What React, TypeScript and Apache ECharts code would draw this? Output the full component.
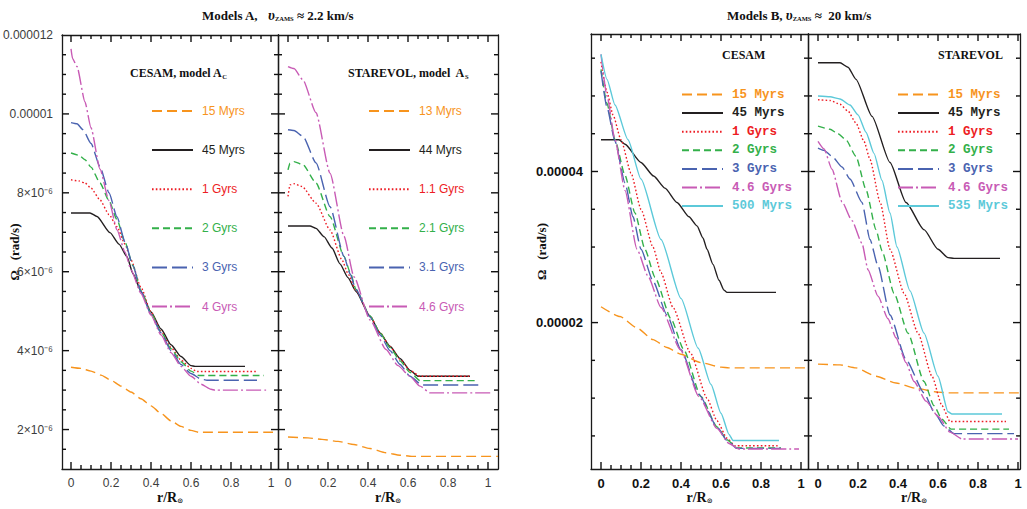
import React, { useEffect, useRef } from "react";
import * as echarts from "echarts";

type Pt = [number, number];

// ---------------- Models A, CESAM (model A_C): [r/Rsun, Omega rad/s]
const A_CESAM_15Myrs: Pt[] = [[0,3.58e-6],[0.05,3.55e-6],[0.1,3.48e-6],[0.15,3.38e-6],[0.2,3.25e-6],[0.25,3.1e-6],[0.3,2.95e-6],[0.35,2.78e-6],[0.4,2.6e-6],[0.45,2.41e-6],[0.5,2.22e-6],[0.55,2.08e-6],[0.6,1.98e-6],[0.64,1.93e-6],[0.7,1.93e-6],[1.035,1.93e-6]];
const A_CESAM_45Myrs: Pt[] = [[0,7.49e-6],[0.095,7.49e-6],[0.13,7.4e-6],[0.195,6.99e-6],[0.24,6.7e-6],[0.28,6.38e-6],[0.31,5.95e-6],[0.35,5.5e-6],[0.4,4.98e-6],[0.45,4.55e-6],[0.5,4.15e-6],[0.55,3.85e-6],[0.6,3.62e-6],[0.62,3.6e-6],[0.87,3.6e-6]];
const A_CESAM_1Gyrs: Pt[] = [[0,8.33e-6],[0.04,8.3e-6],[0.07,8.25e-6],[0.1,8.12e-6],[0.145,7.82e-6],[0.19,7.45e-6],[0.23,7.14e-6],[0.27,6.7e-6],[0.3,6.3e-6],[0.35,5.6e-6],[0.4,4.98e-6],[0.45,4.5e-6],[0.5,4.08e-6],[0.55,3.76e-6],[0.6,3.55e-6],[0.63,3.47e-6],[0.935,3.47e-6]];
const A_CESAM_2Gyrs: Pt[] = [[0,9.01e-6],[0.04,8.95e-6],[0.07,8.84e-6],[0.1,8.65e-6],[0.145,8.25e-6],[0.19,7.8e-6],[0.23,7.32e-6],[0.27,6.75e-6],[0.31,6.15e-6],[0.35,5.52e-6],[0.4,4.95e-6],[0.45,4.48e-6],[0.5,4.05e-6],[0.55,3.72e-6],[0.6,3.48e-6],[0.64,3.37e-6],[0.965,3.37e-6]];
const A_CESAM_3Gyrs: Pt[] = [[0,9.78e-6],[0.03,9.75e-6],[0.06,9.6e-6],[0.1,9.25e-6],[0.145,8.66e-6],[0.19,8.0e-6],[0.23,7.39e-6],[0.27,6.75e-6],[0.31,6.15e-6],[0.35,5.5e-6],[0.4,4.92e-6],[0.45,4.45e-6],[0.5,4.0e-6],[0.55,3.65e-6],[0.6,3.42e-6],[0.65,3.28e-6],[0.68,3.25e-6],[0.93,3.25e-6]];
const A_CESAM_4Gyrs: Pt[] = [[0,11.65e-6],[0.008,11.4e-6],[0.03,11.2e-6],[0.07,10.3e-6],[0.1,9.65e-6],[0.145,8.6e-6],[0.19,7.8e-6],[0.23,7.06e-6],[0.27,6.5e-6],[0.3,6.05e-6],[0.35,5.45e-6],[0.4,4.9e-6],[0.45,4.4e-6],[0.5,3.95e-6],[0.55,3.6e-6],[0.6,3.35e-6],[0.65,3.15e-6],[0.7,3.02e-6],[0.72,3.0e-6],[0.985,3.0e-6]];

// ---------------- Models A, STAREVOL (model A_S)
const A_STAREVOL_13Myrs: Pt[] = [[0,1.81e-6],[0.1,1.79e-6],[0.17,1.75e-6],[0.25,1.7e-6],[0.33,1.62e-6],[0.41,1.52e-6],[0.49,1.41e-6],[0.56,1.35e-6],[0.62,1.32e-6],[1.05,1.32e-6]];
const A_STAREVOL_44Myrs: Pt[] = [[0,7.16e-6],[0.11,7.16e-6],[0.14,7.1e-6],[0.18,6.89e-6],[0.22,6.6e-6],[0.26,6.2e-6],[0.3,5.85e-6],[0.34,5.5e-6],[0.41,4.87e-6],[0.46,4.45e-6],[0.51,4.11e-6],[0.56,3.8e-6],[0.61,3.5e-6],[0.65,3.35e-6],[0.91,3.35e-6]];
const A_STAREVOL_1_1Gyrs: Pt[] = [[0,7.91e-6],[0.01,8.2e-6],[0.03,8.23e-6],[0.07,8.16e-6],[0.14,7.74e-6],[0.21,7.06e-6],[0.27,6.3e-6],[0.3,5.95e-6],[0.34,5.52e-6],[0.41,4.88e-6],[0.46,4.46e-6],[0.51,4.1e-6],[0.56,3.78e-6],[0.61,3.5e-6],[0.66,3.35e-6],[0.91,3.35e-6]];
const A_STAREVOL_2_1Gyrs: Pt[] = [[0,8.58e-6],[0.01,8.75e-6],[0.03,8.79e-6],[0.075,8.71e-6],[0.14,8.25e-6],[0.21,7.4e-6],[0.28,6.39e-6],[0.31,6.0e-6],[0.34,5.55e-6],[0.41,4.88e-6],[0.46,4.45e-6],[0.51,4.08e-6],[0.56,3.74e-6],[0.61,3.45e-6],[0.66,3.24e-6],[0.935,3.24e-6]];
const A_STAREVOL_3_1Gyrs: Pt[] = [[0,9.6e-6],[0.03,9.58e-6],[0.075,9.43e-6],[0.14,8.76e-6],[0.21,7.65e-6],[0.28,6.39e-6],[0.31,5.95e-6],[0.34,5.55e-6],[0.41,4.85e-6],[0.46,4.4e-6],[0.51,4.0e-6],[0.56,3.65e-6],[0.61,3.35e-6],[0.67,3.13e-6],[0.97,3.13e-6]];
const A_STAREVOL_4_6Gyrs: Pt[] = [[0,11.2e-6],[0.03,11.15e-6],[0.075,10.86e-6],[0.14,10.03e-6],[0.21,8.5e-6],[0.28,6.9e-6],[0.33,5.87e-6],[0.41,4.78e-6],[0.49,4.03e-6],[0.55,3.62e-6],[0.61,3.35e-6],[0.66,3.1e-6],[0.71,2.93e-6],[1.02,2.93e-6]];

// ---------------- Models B, CESAM
const B_CESAM_15Myrs: Pt[] = [[0,2.21e-5],[0.095,2.08e-5],[0.18,1.93e-5],[0.26,1.775e-5],[0.33,1.67e-5],[0.4,1.58e-5],[0.5,1.47e-5],[0.6,1.41e-5],[0.64,1.4e-5],[1.03,1.4e-5]];
const B_CESAM_45Myrs: Pt[] = [[0,4.42e-5],[0.09,4.42e-5],[0.12,4.36e-5],[0.2,4.12e-5],[0.263,3.94e-5],[0.32,3.78e-5],[0.38,3.59e-5],[0.44,3.4e-5],[0.48,3.28e-5],[0.51,3.12e-5],[0.53,2.97e-5],[0.56,2.77e-5],[0.59,2.56e-5],[0.615,2.43e-5],[0.63,2.4e-5],[0.875,2.4e-5]];
const B_CESAM_1Gyrs: Pt[] = [[0,5.45e-5],[0.03,5.05e-5],[0.06,4.75e-5],[0.1,4.42e-5],[0.15,3.98e-5],[0.2,3.5e-5],[0.26,3.0e-5],[0.3,2.66e-5],[0.36,2.2e-5],[0.447,1.6e-5],[0.53,1.0e-5],[0.58,0.7e-5],[0.63,0.47e-5],[0.67,0.37e-5],[0.89,0.37e-5]];
const B_CESAM_2Gyrs: Pt[] = [[0,5.35e-5],[0.03,4.9e-5],[0.07,4.42e-5],[0.12,3.95e-5],[0.17,3.45e-5],[0.22,2.97e-5],[0.27,2.6e-5],[0.35,2.05e-5],[0.414,1.64e-5],[0.5,1.02e-5],[0.58,0.62e-5],[0.63,0.45e-5],[0.68,0.34e-5],[0.9,0.34e-5]];
const B_CESAM_3Gyrs: Pt[] = [[0,5.33e-5],[0.03,4.85e-5],[0.07,4.4e-5],[0.12,3.85e-5],[0.16,3.4e-5],[0.2,2.97e-5],[0.26,2.55e-5],[0.33,2.1e-5],[0.4,1.64e-5],[0.49,1.05e-5],[0.58,0.62e-5],[0.63,0.44e-5],[0.68,0.335e-5],[0.9,0.335e-5]];
const B_CESAM_4_6Gyrs: Pt[] = [[0,5.55e-5],[0.03,5.0e-5],[0.07,4.42e-5],[0.12,3.75e-5],[0.18,2.97e-5],[0.236,2.61e-5],[0.3,2.2e-5],[0.397,1.64e-5],[0.49,1.02e-5],[0.58,0.6e-5],[0.64,0.4e-5],[0.69,0.327e-5],[0.99,0.327e-5]];
const B_CESAM_500Myrs: Pt[] = [[0,5.55e-5],[0.03,5.22e-5],[0.07,4.88e-5],[0.135,4.42e-5],[0.2,3.9e-5],[0.3,3.1e-5],[0.4,2.32e-5],[0.486,1.66e-5],[0.55,1.18e-5],[0.6,0.8e-5],[0.64,0.52e-5],[0.66,0.44e-5],[0.89,0.44e-5]];

// ---------------- Models B, STAREVOL
const B_STAREVOL_15Myrs: Pt[] = [[0,1.45e-5],[0.11,1.44e-5],[0.19,1.4e-5],[0.29,1.29e-5],[0.39,1.2e-5],[0.49,1.13e-5],[0.6,1.08e-5],[0.65,1.07e-5],[1.01,1.07e-5]];
const B_STAREVOL_45Myrs: Pt[] = [[0,5.44e-5],[0.11,5.44e-5],[0.15,5.38e-5],[0.19,5.22e-5],[0.27,4.73e-5],[0.36,4.12e-5],[0.44,3.59e-5],[0.53,3.23e-5],[0.6,2.97e-5],[0.65,2.86e-5],[0.68,2.85e-5],[0.91,2.85e-5]];
const B_STAREVOL_1Gyrs: Pt[] = [[0,4.95e-5],[0.06,4.94e-5],[0.11,4.89e-5],[0.15,4.8e-5],[0.19,4.64e-5],[0.23,4.4e-5],[0.26,4.16e-5],[0.31,3.6e-5],[0.36,2.97e-5],[0.43,2.39e-5],[0.5,1.86e-5],[0.57,1.29e-5],[0.62,0.9e-5],[0.66,0.69e-5],[0.94,0.69e-5]];
const B_STAREVOL_2Gyrs: Pt[] = [[0,4.6e-5],[0.06,4.56e-5],[0.1,4.5e-5],[0.14,4.42e-5],[0.19,4.2e-5],[0.24,3.76e-5],[0.29,3.23e-5],[0.32,2.95e-5],[0.38,2.39e-5],[0.45,1.86e-5],[0.53,1.22e-5],[0.58,0.9e-5],[0.62,0.72e-5],[0.665,0.59e-5],[0.955,0.59e-5]];
const B_STAREVOL_3Gyrs: Pt[] = [[0,4.31e-5],[0.03,4.28e-5],[0.07,4.2e-5],[0.12,4.06e-5],[0.16,3.9e-5],[0.22,3.59e-5],[0.26,3.1e-5],[0.3,2.75e-5],[0.36,2.1e-5],[0.44,1.51e-5],[0.53,1.07e-5],[0.58,0.82e-5],[0.63,0.63e-5],[0.68,0.53e-5],[0.98,0.53e-5]];
const B_STAREVOL_4_6Gyrs: Pt[] = [[0,4.4e-5],[0.03,4.3e-5],[0.07,4.03e-5],[0.12,3.6e-5],[0.17,3.35e-5],[0.22,3.05e-5],[0.25,2.7e-5],[0.3,2.35e-5],[0.35,2.05e-5],[0.39,1.8e-5],[0.44,1.47e-5],[0.48,1.22e-5],[0.54,0.96e-5],[0.6,0.76e-5],[0.66,0.55e-5],[0.72,0.46e-5],[1.0,0.46e-5]];
const B_STAREVOL_535Myrs: Pt[] = [[0,5.0e-5],[0.06,4.99e-5],[0.11,4.96e-5],[0.16,4.88e-5],[0.2,4.75e-5],[0.24,4.52e-5],[0.28,4.24e-5],[0.32,3.88e-5],[0.36,3.45e-5],[0.395,3.0e-5],[0.46,2.42e-5],[0.53,1.86e-5],[0.6,1.29e-5],[0.65,0.82e-5],[0.67,0.79e-5],[0.92,0.79e-5]];

// ---------------- ticks and tick labels
const X_TICK_VALUES = [0, 0.2, 0.4, 0.6, 0.8, 1];
const X_TICK_LABELS = ["0", "0.2", "0.4", "0.6", "0.8", "1"];
const X_MINOR_TICKS = [0.05, 0.1, 0.15, 0.25, 0.3, 0.35, 0.45, 0.5, 0.55, 0.65, 0.7, 0.75, 0.85, 0.9, 0.95];
const A_Y_TICK_VALUES = [2e-6, 4e-6, 6e-6, 8e-6, 1e-5, 1.2e-5];
const A_Y_TICK_LABELS = ["2×10⁻⁶", "4×10⁻⁶", "6×10⁻⁶", "8×10⁻⁶", "0.00001", "0.000012"];
const A_Y_MINOR_TICKS = [1.5e-6, 2.5e-6, 3e-6, 3.5e-6, 4.5e-6, 5e-6, 5.5e-6, 6.5e-6, 7e-6, 7.5e-6, 8.5e-6, 9e-6, 9.5e-6, 1.05e-5, 1.1e-5, 1.15e-5];
const B_Y_TICK_VALUES = [2e-5, 4e-5];
const B_Y_TICK_LABELS = ["0.00002", "0.00004"];
const B_Y_MINOR_TICKS = [5e-6, 1e-5, 1.5e-5, 2.5e-5, 3e-5, 3.5e-5, 4.5e-5, 5e-5, 5.5e-5];

// ---------------- legends (per panel)
const A_CESAM_LEGEND = ["15 Myrs", "45 Myrs", "1 Gyrs", "2 Gyrs", "3 Gyrs", "4 Gyrs"];
const A_STAREVOL_LEGEND = ["13 Myrs", "44 Myrs", "1.1 Gyrs", "2.1 Gyrs", "3.1 Gyrs", "4.6 Gyrs"];
const B_CESAM_LEGEND = ["15 Myrs", "45 Myrs", "1 Gyrs", "2 Gyrs", "3 Gyrs", "4.6 Gyrs", "500 Myrs"];
const B_STAREVOL_LEGEND = ["15 Myrs", "45 Myrs", "1 Gyrs", "2 Gyrs", "3 Gyrs", "4.6 Gyrs", "535 Myrs"];

const STYLES: Record<string, { color: string; type: any }> = {
  young: { color: "#F7941D", type: [10, 5] },
  zams: { color: "#231F20", type: "solid" },
  g1: { color: "#ED1C24", type: [1.6, 2.2] },
  g2: { color: "#33B04A", type: [7, 4] },
  g3: { color: "#4A63B0", type: [15, 5] },
  g4: { color: "#C85BB5", type: [15, 3, 2, 3] },
  cyan: { color: "#5CC9D9", type: "solid" },
};

const KIND_OF: Record<string, string> = {
  "15 Myrs": "young", "13 Myrs": "young",
  "45 Myrs": "zams", "44 Myrs": "zams",
  "1 Gyrs": "g1", "1.1 Gyrs": "g1",
  "2 Gyrs": "g2", "2.1 Gyrs": "g2",
  "3 Gyrs": "g3", "3.1 Gyrs": "g3",
  "4 Gyrs": "g4", "4.6 Gyrs": "g4",
  "500 Myrs": "cyan", "535 Myrs": "cyan",
};

const PANEL_SERIES: [string, Pt[]][][] = [
  [["15 Myrs", A_CESAM_15Myrs], ["45 Myrs", A_CESAM_45Myrs], ["1 Gyrs", A_CESAM_1Gyrs], ["2 Gyrs", A_CESAM_2Gyrs], ["3 Gyrs", A_CESAM_3Gyrs], ["4 Gyrs", A_CESAM_4Gyrs]],
  [["13 Myrs", A_STAREVOL_13Myrs], ["44 Myrs", A_STAREVOL_44Myrs], ["1.1 Gyrs", A_STAREVOL_1_1Gyrs], ["2.1 Gyrs", A_STAREVOL_2_1Gyrs], ["3.1 Gyrs", A_STAREVOL_3_1Gyrs], ["4.6 Gyrs", A_STAREVOL_4_6Gyrs]],
  [["15 Myrs", B_CESAM_15Myrs], ["45 Myrs", B_CESAM_45Myrs], ["1 Gyrs", B_CESAM_1Gyrs], ["2 Gyrs", B_CESAM_2Gyrs], ["3 Gyrs", B_CESAM_3Gyrs], ["4.6 Gyrs", B_CESAM_4_6Gyrs], ["500 Myrs", B_CESAM_500Myrs]],
  [["15 Myrs", B_STAREVOL_15Myrs], ["45 Myrs", B_STAREVOL_45Myrs], ["1 Gyrs", B_STAREVOL_1Gyrs], ["2 Gyrs", B_STAREVOL_2Gyrs], ["3 Gyrs", B_STAREVOL_3Gyrs], ["4.6 Gyrs", B_STAREVOL_4_6Gyrs], ["535 Myrs", B_STAREVOL_535Myrs]],
];

const GRIDS = [
  { left: 62, top: 35, width: 216, height: 434 },
  { left: 278, top: 35, width: 220, height: 434 },
  { left: 591, top: 34, width: 217, height: 435 },
  { left: 808, top: 34, width: 212, height: 435 },
];
const X_RANGES = [[-0.045, 1.035], [-0.05, 1.05], [-0.05, 1.035], [-0.05, 1.01]];
const Y_RANGE_A = [1.0e-6, 1.2e-5];
const Y_RANGE_B = [6.2e-7, 5.82e-5];

const lookup = (v: number, vals: number[], labels: string[]) => {
  for (let i = 0; i < vals.length; i++) {
    if (Math.abs(v - vals[i]) < Math.abs(vals[1] - vals[0]) * 1e-4) return labels[i];
  }
  return "";
};

export default function App() {
  const ref = useRef<HTMLDivElement>(null);
  const tickRef = useRef<HTMLDivElement>(null);
  useEffect(() => {
    if (!ref.current || !tickRef.current) return;
    const chart = echarts.init(ref.current, undefined, { renderer: "svg" });
    const tickChart = echarts.init(tickRef.current, undefined, { renderer: "svg" });

    const frame = { color: "#1a1a1a", width: 1.3 };
    const serif = "'Liberation Serif', 'DejaVu Serif', serif";
    const MAJOR = 7;
    const MINOR = 4;

    const xAxis: any[] = [];
    const yAxis: any[] = [];
    const series: any[] = [];
    const tXAxis: any[] = [];
    const tYAxis: any[] = [];
    const tSeries: any[] = [];

    GRIDS.forEach((_, g) => {
      const isA = g < 2;
      const labelStyle = isA
        ? { fontFamily: "'Liberation Sans', Arial, sans-serif", fontSize: 12, color: "#3c3c3c" }
        : { fontFamily: "'Liberation Sans', Arial, sans-serif", fontSize: 13, fontWeight: "bold", color: "#111" };
      const [xmin, xmax] = X_RANGES[g];
      const [ymin, ymax] = isA ? Y_RANGE_A : Y_RANGE_B;
      const baseX = {
        type: "value", gridIndex: g, min: xmin, max: xmax, splitNumber: 5,
        axisLine: { show: true, onZero: false, lineStyle: frame },
        axisTick: { show: false }, splitLine: { show: false },
      };
      xAxis.push({
        ...baseX, position: "bottom",
        axisLabel: { ...labelStyle, margin: 8, formatter: (v: number) => lookup(v, X_TICK_VALUES, X_TICK_LABELS) },
        name: "{a|r/R}{s|⊙}", nameLocation: "middle", nameGap: 21, nameMoveOverlap: false,
        nameTextStyle: {
          rich: {
            a: { fontFamily: serif, fontSize: 14, fontWeight: "bold", color: "#111", lineHeight: 14, verticalAlign: "middle" },
            s: { fontFamily: "'DejaVu Sans', sans-serif", fontSize: 7, fontWeight: "bold", color: "#111", verticalAlign: "bottom", lineHeight: 9, padding: [3, 0, 0, 0] },
          },
        },
      });
      xAxis.push({ ...baseX, position: "top", axisLabel: { show: false } });

      const baseY = {
        type: "value", gridIndex: g, min: ymin, max: ymax, splitNumber: isA ? 6 : 3,
        axisLine: { show: true, onZero: false, lineStyle: frame },
        axisTick: { show: false }, splitLine: { show: false },
      };
      const showLeftLabels = g === 0 || g === 2;
      yAxis.push({
        ...baseY, position: "left",
        axisLabel: showLeftLabels
          ? {
              ...labelStyle, margin: isA ? 9 : 8,
              formatter: (v: number) => (isA ? lookup(v, A_Y_TICK_VALUES, A_Y_TICK_LABELS) : lookup(v, B_Y_TICK_VALUES, B_Y_TICK_LABELS)),
            }
          : { show: false },
        name: showLeftLabels ? "Ω   (rad/s)" : "",
        nameLocation: "middle", nameGap: isA ? 41 : 43, nameMoveOverlap: false,
        nameTextStyle: { fontFamily: serif, fontSize: 13, fontWeight: "bold", color: "#111" },
      });
      yAxis.push({ ...baseY, position: "right", axisLabel: { show: false } });

      // ---- tick overlay chart: same grids and scales, ticks on all four sides pointing inward
      tXAxis.push({ type: "value", gridIndex: g, min: xmin, max: xmax, show: false });
      tYAxis.push({ type: "value", gridIndex: g, min: ymin, max: ymax, show: false });
      const yMajor = isA ? A_Y_TICK_VALUES.filter((v) => v < ymax) : B_Y_TICK_VALUES;
      const yMinor = isA ? A_Y_MINOR_TICKS : B_Y_MINOR_TICKS;
      const tickData: number[][] = [];
      X_TICK_VALUES.forEach((v) => { tickData.push([v, ymin, MAJOR, 0]); tickData.push([v, ymax, MAJOR, 1]); });
      X_MINOR_TICKS.forEach((v) => { tickData.push([v, ymin, MINOR, 0]); tickData.push([v, ymax, MINOR, 1]); });
      yMajor.forEach((v) => { tickData.push([xmin, v, MAJOR, 2]); tickData.push([xmax, v, MAJOR, 3]); });
      yMinor.forEach((v) => { tickData.push([xmin, v, MINOR, 2]); tickData.push([xmax, v, MINOR, 3]); });
      tSeries.push({
        type: "custom", xAxisIndex: g, yAxisIndex: g, coordinateSystem: "cartesian2d", clip: false,
        data: tickData,
        encode: { x: 0, y: 1 },
        renderItem: (_p: any, api: any) => {
          const p = api.coord([api.value(0), api.value(1)]);
          const len = api.value(2);
          const side = api.value(3);
          let x2 = p[0], y2 = p[1];
          if (side === 0) y2 = p[1] - len;
          else if (side === 1) y2 = p[1] + len;
          else if (side === 2) x2 = p[0] + len;
          else x2 = p[0] - len;
          return { type: "line", shape: { x1: p[0], y1: p[1], x2, y2 }, style: { stroke: "#111111", lineWidth: 1.4 } };
        },
      });
    });

    PANEL_SERIES.forEach((list, g) => {
      list.forEach(([name, data]) => {
        const st = STYLES[KIND_OF[name]];
        series.push({
          type: "line", name, data, xAxisIndex: 2 * g, yAxisIndex: 2 * g,
          symbol: "none", showSymbol: false, smooth: 0.2, smoothMonotone: "x",
          lineStyle: { color: st.color, width: 1.4, type: st.type },
          itemStyle: { color: st.color },
          emphasis: { disabled: true },
        });
      });
    });

    const mkLegend = (names: string[], left: number, top: number, gap: number, textStyle: any) => ({
      orient: "vertical", left, top, padding: 0, itemWidth: 41, itemHeight: 14, itemGap: gap,
      selectedMode: false, textStyle: { ...textStyle, padding: [0, 0, 0, 4] },
      itemStyle: { opacity: 0 },
      data: names.map((n) => ({ name: n, textStyle: { color: STYLES[KIND_OF[n]].color } })),
    });
    const sansLeg = { fontFamily: "'Liberation Sans', Arial, sans-serif", fontSize: 12 };
    const monoLeg = { fontFamily: "'Liberation Mono', 'DejaVu Sans Mono', monospace", fontSize: 12.5, fontWeight: "bold" };

    const titleRich = {
      b: { fontFamily: serif, fontSize: 13, fontWeight: "bold", color: "#111" },
      v: { fontFamily: serif, fontSize: 14, fontStyle: "italic", color: "#111" },
      s: { fontFamily: serif, fontSize: 6.5, fontWeight: "bold", color: "#111", verticalAlign: "bottom", padding: [7, 0, 0, 0] },
    };

    chart.setOption({
      animation: false,
      grid: GRIDS.map((g) => ({ ...g, containLabel: false, outerBoundsMode: "none" })),
      xAxis, yAxis, series,
      legend: [
        mkLegend(A_CESAM_LEGEND, 151, 105, 27.1, sansLeg),
        mkLegend(A_STAREVOL_LEGEND, 368, 105, 27.1, sansLeg),
        mkLegend(B_CESAM_LEGEND, 681, 88, 5.6, monoLeg),
        mkLegend(B_STAREVOL_LEGEND, 897, 88, 5.6, monoLeg),
      ],
      title: [
        { text: "{b|Models A,   }{v|υ}{s|ZAMS}{b| ≈ 2.2 km/s}", left: 202, top: 8, padding: 0, textStyle: { rich: titleRich } },
        { text: "{b|Models B, }{v|υ}{s|ZAMS}{b| ≈  20 km/s}", left: 727, top: 8, padding: 0, textStyle: { rich: titleRich } },
        { text: "{b|CESAM, model A}{s|C}", left: 130, top: 66, padding: 0, textStyle: { rich: { ...titleRich, b: { ...titleRich.b, fontSize: 12 } } } },
        { text: "{b|STAREVOL, model  A}{s|S}", left: 348, top: 66, padding: 0, textStyle: { rich: { ...titleRich, b: { ...titleRich.b, fontSize: 12 } } } },
        { text: "CESAM", left: 722, top: 49, padding: 0, textStyle: { fontFamily: serif, fontSize: 12, fontWeight: "bold", color: "#111" } },
        { text: "STAREVOL", left: 938, top: 49, padding: 0, textStyle: { fontFamily: serif, fontSize: 12, fontWeight: "bold", color: "#111" } },
      ],
    });

    tickChart.setOption({
      animation: false,
      backgroundColor: "rgba(0,0,0,0)",
      grid: GRIDS.map((g) => ({ ...g, containLabel: false, outerBoundsMode: "none" })),
      xAxis: tXAxis, yAxis: tYAxis, series: tSeries,
    });

    return () => {
      chart.dispose();
      tickChart.dispose();
    };
  }, []);
  return (
    <>
      <div ref={ref} style={{ position: "fixed", left: 0, top: 0, width: 1027, height: 509, background: "#fff" }} />
      <div ref={tickRef} style={{ position: "fixed", left: 0, top: 0, width: 1027, height: 509, pointerEvents: "none" }} />
    </>
  );
}
